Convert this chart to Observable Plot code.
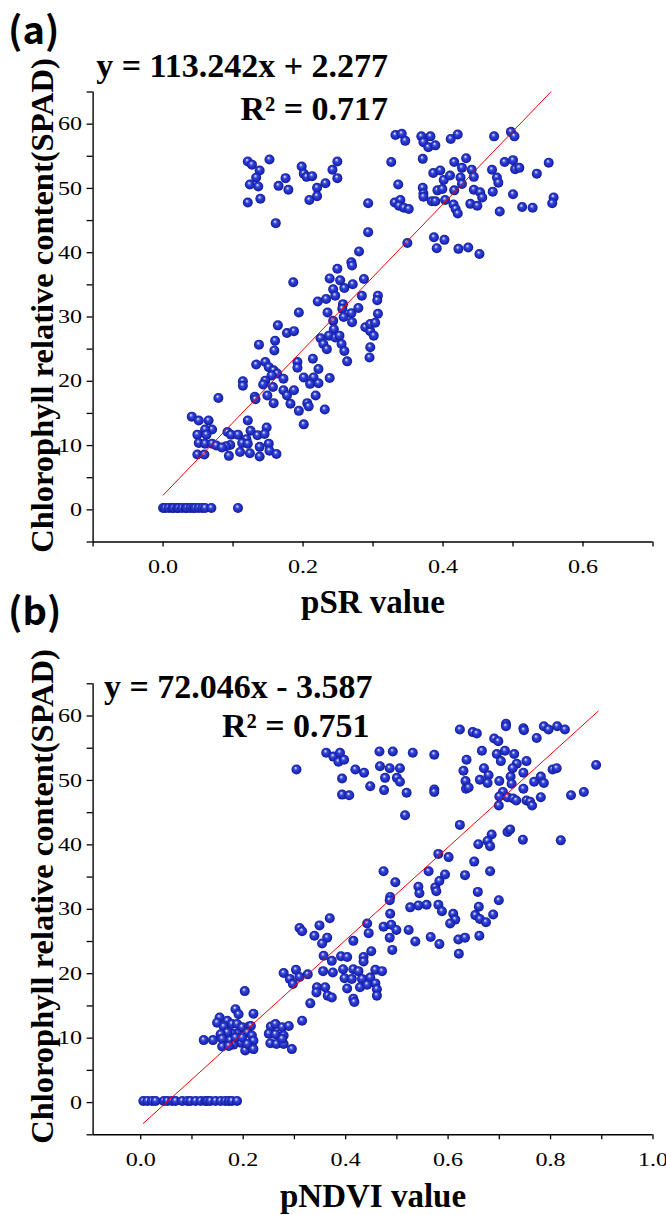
<!DOCTYPE html>
<html><head><meta charset="utf-8">
<script src="https://cdn.jsdelivr.net/npm/d3@7"></script>
<script src="https://cdn.jsdelivr.net/npm/@observablehq/plot@0.6"></script>
<style>
body{margin:0;background:#fff;width:666px;}
svg{display:block;}
</style></head><body><div id="pa"></div><div id="pb"></div>
<script>
// ---------- Panel (a): pSR ----------
const aZeroRow = [[0.0,0.3],[0.003,0.3],[0.008,0.3],[0.013,0.3],[0.015,0.3],[0.020,0.3],[0.022,0.3],[0.027,0.3],[0.032,0.3],[0.034,0.3],[0.039,0.3],[0.043,0.3],[0.046,0.3],[0.051,0.3],[0.056,0.3],[0.060,0.3],[0.069,0.3],[0.107,0.3]];
const aLow = [[0.041,14.5],[0.051,13.9],[0.065,13.9],[0.070,12.5],[0.060,12.5],[0.049,11.7],[0.062,11.7],[0.051,10.4],[0.060,10.3],[0.070,10.3],[0.076,10.0],[0.049,8.6],[0.059,8.6],[0.092,12.1],[0.097,11.7],[0.107,11.7],[0.121,13.9],[0.125,12.3],[0.119,11.0],[0.113,10.4],[0.110,9.0],[0.096,10.1],[0.090,9.9],[0.094,8.4],[0.084,9.7],[0.124,8.8],[0.135,11.6],[0.148,12.8],[0.145,11.8],[0.138,9.8],[0.151,10.3],[0.152,9.2],[0.138,8.3],[0.162,8.7],[0.121,10.3]];
const aMid = [[0.079,17.4],[0.114,20.0],[0.114,19.3],[0.131,17.6],[0.132,17.2],[0.133,22.6],[0.146,23.0],[0.151,22.2],[0.158,21.7],[0.163,21.2],[0.155,20.9],[0.172,20.4],[0.146,20.1],[0.143,19.5],[0.157,19.1],[0.149,17.8],[0.158,16.6],[0.172,18.6],[0.177,17.8],[0.187,18.6],[0.182,16.5],[0.194,15.4],[0.201,13.3],[0.206,16.6],[0.208,16.1],[0.218,17.8],[0.192,23.0],[0.192,22.1],[0.201,20.6],[0.215,20.6],[0.210,19.6],[0.222,19.7],[0.222,21.9],[0.214,23.5],[0.238,20.5],[0.231,15.6],[0.137,25.7],[0.160,26.3],[0.159,24.8],[0.177,27.5],[0.187,27.8],[0.164,28.7],[0.194,30.7],[0.221,32.4],[0.233,32.8],[0.235,30.7],[0.243,34.3],[0.246,33.3],[0.259,34.5],[0.253,35.7],[0.271,35.1],[0.284,33.3],[0.257,32.0],[0.256,31.3],[0.269,30.6],[0.279,31.4],[0.270,29.2],[0.258,30.0],[0.243,29.4],[0.244,28.1],[0.237,27.1],[0.225,26.7],[0.229,25.8],[0.234,25.0],[0.246,26.8],[0.252,27.1],[0.255,25.8],[0.259,24.7],[0.263,23.1],[0.289,28.4],[0.296,27.8],[0.301,27.1],[0.307,33.3],[0.306,32.6],[0.307,30.5],[0.296,25.3],[0.295,23.7],[0.296,28.9],[0.186,35.4],[0.303,29.1]];
const aUpperLeft = [[0.121,54.2],[0.127,53.7],[0.152,54.5],[0.138,52.8],[0.133,51.7],[0.124,50.6],[0.136,50.3],[0.121,47.8],[0.139,48.4],[0.175,51.6],[0.165,50.4],[0.179,49.8],[0.161,44.6],[0.198,53.4],[0.201,52.3],[0.205,51.8],[0.213,51.9],[0.249,54.2],[0.242,52.9],[0.249,51.6],[0.232,50.8],[0.220,50.1],[0.220,48.8],[0.209,48.2],[0.293,47.7],[0.293,43.2],[0.280,40.2],[0.269,38.5],[0.270,38.0],[0.249,37.5],[0.238,36.0],[0.287,35.9]];
const aUpperRight = [[0.332,58.3],[0.341,58.5],[0.346,57.4],[0.369,58.1],[0.382,58.1],[0.372,57.2],[0.379,56.4],[0.389,56.7],[0.411,57.7],[0.421,58.4],[0.473,58.1],[0.497,58.8],[0.502,58.1],[0.326,54.1],[0.371,54.6],[0.336,50.6],[0.331,47.8],[0.339,48.2],[0.337,47.3],[0.344,47.0],[0.351,46.8],[0.371,50.1],[0.372,49.2],[0.372,48.7],[0.384,48.0],[0.389,48.0],[0.386,52.4],[0.396,52.8],[0.392,49.7],[0.399,49.9],[0.401,51.3],[0.410,52.0],[0.416,54.1],[0.416,49.7],[0.427,53.2],[0.433,54.7],[0.441,52.9],[0.444,51.8],[0.425,51.7],[0.427,50.7],[0.403,48.2],[0.415,47.5],[0.418,46.8],[0.421,46.1],[0.439,47.6],[0.449,47.3],[0.444,49.8],[0.453,49.4],[0.456,48.6],[0.470,52.9],[0.477,51.7],[0.479,50.9],[0.471,49.5],[0.488,54.1],[0.500,54.4],[0.503,53.0],[0.509,53.2],[0.500,49.1],[0.481,46.4],[0.513,47.1],[0.528,47.0],[0.534,52.3],[0.551,54.0],[0.558,48.6],[0.556,47.7],[0.349,41.5],[0.387,42.4],[0.391,40.7],[0.402,42.0],[0.422,40.6],[0.436,40.8],[0.452,39.8]];
const aSlope = 113.242, aIntercept = 2.277;
const aFitRange = [0, 0.554];
const aEquation = "y = 113.242x + 2.277";
const aR2 = "R\u00B2 = 0.717";

// ---------- Panel (b): pNDVI ----------
const bZeroRow = [[0.005,0.26],[0.013,0.26],[0.022,0.26],[0.029,0.26],[0.045,0.26],[0.052,0.26],[0.061,0.26],[0.068,0.26],[0.081,0.26],[0.091,0.26],[0.097,0.26],[0.107,0.26],[0.117,0.26],[0.126,0.26],[0.130,0.26],[0.136,0.26],[0.146,0.26],[0.156,0.26],[0.165,0.26],[0.172,0.26],[0.178,0.26],[0.188,0.26]];
const bLow = [[0.203,17.3],[0.185,14.5],[0.191,13.7],[0.154,13.2],[0.149,12.4],[0.169,12.7],[0.162,11.8],[0.178,12.2],[0.188,12.2],[0.198,11.7],[0.211,11.8],[0.215,11.9],[0.208,10.9],[0.188,10.7],[0.178,10.7],[0.169,10.9],[0.156,10.6],[0.159,9.9],[0.175,9.7],[0.217,10.4],[0.220,9.6],[0.195,9.3],[0.181,9.0],[0.159,8.7],[0.204,8.1],[0.217,8.6],[0.123,9.7],[0.141,9.7],[0.254,11.8],[0.263,12.2],[0.276,11.7],[0.289,11.9],[0.250,10.7],[0.263,10.6],[0.253,9.2],[0.265,9.1],[0.279,10.4],[0.279,9.1],[0.295,8.3],[0.276,9.9],[0.185,10.1],[0.198,10.1],[0.208,9.1],[0.172,8.8],[0.220,8.3]];
const bMid = [[0.474,35.9],[0.497,34.2],[0.542,33.5],[0.544,32.5],[0.562,35.9],[0.575,33.4],[0.577,32.8],[0.583,34.4],[0.594,35.4],[0.633,35.3],[0.682,35.9],[0.658,32.7],[0.699,31.4],[0.660,30.4],[0.653,29.1],[0.662,28.5],[0.674,28.0],[0.688,29.2],[0.610,29.3],[0.614,28.4],[0.604,27.8],[0.581,30.7],[0.588,29.7],[0.558,30.7],[0.542,30.6],[0.526,30.3],[0.487,31.9],[0.486,31.4],[0.487,29.3],[0.474,27.3],[0.489,27.6],[0.499,26.8],[0.523,26.8],[0.486,25.6],[0.491,23.7],[0.536,25.0],[0.566,25.7],[0.583,24.6],[0.620,25.3],[0.633,25.6],[0.661,25.9],[0.621,23.1],[0.442,27.8],[0.445,26.3],[0.369,28.6],[0.349,27.5],[0.310,27.1],[0.315,26.6],[0.339,25.9],[0.364,25.6],[0.354,24.7],[0.415,25.1],[0.450,23.5],[0.357,22.8],[0.373,22.0],[0.391,22.7],[0.403,22.6],[0.435,22.6],[0.435,21.9],[0.279,20.1],[0.303,20.6],[0.291,19.2],[0.297,18.4],[0.310,19.5],[0.326,19.9],[0.356,20.4],[0.375,20.2],[0.395,20.7],[0.415,20.7],[0.425,20.4],[0.458,20.6],[0.471,20.4],[0.398,19.3],[0.412,19.2],[0.432,19.2],[0.448,19.4],[0.458,18.5],[0.428,17.9],[0.442,18.3],[0.461,17.6],[0.461,16.6],[0.344,17.9],[0.343,17.1],[0.360,17.9],[0.365,16.6],[0.373,16.3],[0.403,17.7],[0.415,16.1],[0.417,15.6],[0.331,15.4],[0.220,13.8],[0.315,12.7]];
const bUpper = [[0.304,51.7],[0.362,54.3],[0.376,53.7],[0.389,54.3],[0.386,52.9],[0.397,53.2],[0.393,50.3],[0.419,51.7],[0.436,51.2],[0.393,47.8],[0.407,47.7],[0.448,49.1],[0.466,54.5],[0.467,52.2],[0.486,51.9],[0.477,50.4],[0.492,54.5],[0.506,51.9],[0.500,50.4],[0.506,49.8],[0.475,48.5],[0.519,48.1],[0.531,54.3],[0.573,54.0],[0.573,48.6],[0.573,48.2],[0.516,44.6],[0.623,57.9],[0.648,57.5],[0.656,57.3],[0.690,56.5],[0.698,56.1],[0.713,58.8],[0.713,58.4],[0.747,58.1],[0.748,57.8],[0.773,56.6],[0.787,58.4],[0.796,57.9],[0.813,58.4],[0.828,57.9],[0.666,54.6],[0.636,53.2],[0.630,51.5],[0.634,49.9],[0.635,48.7],[0.640,48.9],[0.670,51.9],[0.679,50.8],[0.662,50.1],[0.677,49.6],[0.700,49.9],[0.695,54.1],[0.711,54.6],[0.703,53.0],[0.729,54.1],[0.734,52.6],[0.726,51.9],[0.753,53.0],[0.747,51.2],[0.722,50.6],[0.724,49.5],[0.707,48.2],[0.700,47.5],[0.699,46.1],[0.716,47.4],[0.727,47.2],[0.733,46.9],[0.747,48.7],[0.753,46.9],[0.760,46.7],[0.764,46.1],[0.781,47.4],[0.768,49.8],[0.781,50.6],[0.787,49.6],[0.804,51.7],[0.812,51.9],[0.840,47.7],[0.865,48.2],[0.889,52.4],[0.623,43.1],[0.685,41.6],[0.716,42.0],[0.721,42.4],[0.746,40.8],[0.820,40.7],[0.677,40.6],[0.659,40.1],[0.682,39.8],[0.581,38.6],[0.601,38.1],[0.651,37.4]];
const bSlope = 72.046, bIntercept = -3.587;
const bFitRange = [0.005, 0.893];
const bEquation = "y = 72.046x - 3.587";
const bR2 = "R\u00B2 = 0.751";

// ---------- shared axis ticks / labels ----------
const yMajor = [0, 10, 20, 30, 40, 50, 60];
const yMinor = [-5, 5, 15, 25, 35, 45, 55, 65];
const aXMajor = [0, 0.2, 0.4, 0.6];
const aXMinor = [-0.1, 0.1, 0.3, 0.5, 0.7];
const bXMajor = [0, 0.2, 0.4, 0.6, 0.8, 1.0];
const bXMinor = [0.1, 0.3, 0.5, 0.7, 0.9];
const yTitle = "Chlorophyll relative content(SPAD)";
const aXTitle = "pSR value", bXTitle = "pNDVI value";
const aPanel = "(a)", bPanel = "(b)";

const TICK_STRETCH = 1.27;
const serif = "Liberation Serif, Times New Roman, serif";

function panel(cfg) {
  const pts = cfg.points;
  const fit = cfg.fitRange.map(x => ({x, y: cfg.slope * x + cfg.intercept}));
  const gid = cfg.gid;
  const svg = Plot.plot({
    width: 666, height: cfg.height,
    marginLeft: 92.6, marginRight: 13.5, marginTop: cfg.marginTop, marginBottom: cfg.marginBottom,
    x: {domain: cfg.xDomain, axis: null},
    y: {domain: [-5, 65], axis: null},
    style: {fontFamily: serif, fontSize: "19px", color: "black", background: "white", overflow: "visible"},
    marks: [
      Plot.ruleX([cfg.xDomain[0]], {stroke: "black", strokeWidth: 1.4}),
      Plot.ruleY([-5], {stroke: "black", strokeWidth: 1.4}),
      Plot.axisY(yMajor, {anchor: "left", tickSize: 6, tickPadding: 5, tickFormat: d => String(d), label: null, strokeWidth: 1.3}),
      Plot.axisY(yMinor, {anchor: "left", tickSize: 6, tickFormat: () => "", label: null, strokeWidth: 1.3}),
      Plot.axisX(cfg.xMajor, {anchor: "bottom", tickSize: 5, tickPadding: 13, tickFormat: d3.format(".1f"), label: null, strokeWidth: 1.3}),
      Plot.axisX(cfg.xMinor, {anchor: "bottom", tickSize: 5, tickFormat: () => "", label: null, strokeWidth: 1.3}),
      Plot.dot(pts, {x: d => d[0], y: d => d[1], r: 5, fill: `url(#${gid})`}),
      Plot.line(fit, {x: "x", y: "y", stroke: "#ff0000", strokeWidth: 1}),
      Plot.text([cfg.eq], {frameAnchor: "top-left", textAnchor: "end", lineAnchor: "bottom", dx: cfg.eqDx, dy: cfg.eqDy, fontSize: 34, fontWeight: "bold", fontFamily: serif}),
      Plot.text([cfg.r2], {frameAnchor: "top-left", textAnchor: "end", lineAnchor: "bottom", dx: cfg.r2Dx, dy: cfg.r2Dy, fontSize: 34, fontWeight: "bold", fontFamily: serif}),
      Plot.text([cfg.panel], {frameAnchor: "top-left", textAnchor: "start", lineAnchor: "bottom", dx: -85, dy: cfg.panelDy, fontSize: 38, fontWeight: "bold", fontFamily: "Noto Sans CJK SC, Noto Sans, sans-serif"}),
      Plot.text([cfg.xTitle], {frameAnchor: "bottom", textAnchor: "middle", lineAnchor: "bottom", dy: cfg.xTitleDy, fontSize: 33, fontWeight: "bold", fontFamily: serif}),
      Plot.text([yTitle], {frameAnchor: "left", textAnchor: "middle", lineAnchor: "bottom", rotate: -90, dx: -40.6, dy: cfg.yTitleDy, fontSize: 32.5, fontWeight: "bold", fontFamily: serif})
    ]
  });
  d3.select(svg).insert("defs", ":first-child").html(
    `<radialGradient id="${gid}" cx="50%" cy="50%" r="50%" fx="40%" fy="32%">
      <stop offset="0%" stop-color="#ffffff"/>
      <stop offset="14%" stop-color="#a6aefa"/>
      <stop offset="38%" stop-color="#3444d6"/>
      <stop offset="75%" stop-color="#1d2bc0"/>
      <stop offset="100%" stop-color="#131b88"/>
    </radialGradient>`);
  document.getElementById(cfg.host).appendChild(svg);
  // tick labels in the reference are drawn in a wide face: widen them horizontally
  svg.querySelectorAll("text").forEach(t => {
    if (!/^-?[\d.]+$/.test(t.textContent)) return;
    const tr = t.getAttribute("transform") || "";
    t.setAttribute("transform", tr + ` scale(${TICK_STRETCH},1)`);
  });
}

panel({
  host: "pa", gid: "sphA", height: 607, marginTop: 91.5, marginBottom: 65.5,
  xDomain: [-0.1, 0.7], xMajor: aXMajor, xMinor: aXMinor,
  points: [...aZeroRow, ...aLow, ...aMid, ...aUpperLeft, ...aUpperRight],
  slope: aSlope, intercept: aIntercept, fitRange: aFitRange,
  eq: aEquation, r2: aR2, eqDx: 295, eqDy: -15, r2Dx: 295, r2Dy: 27.5,
  panel: aPanel, panelDy: -48, xTitle: aXTitle, xTitleDy: 70.5, yTitleDy: -11.5
});
panel({
  host: "pb", gid: "sphB", height: 608, marginTop: 76.3, marginBottom: 80.7,
  xDomain: [-0.093, 1.0], xMajor: bXMajor, xMinor: bXMinor,
  points: [...bZeroRow, ...bLow, ...bMid, ...bUpper],
  slope: bSlope, intercept: bIntercept, fitRange: bFitRange,
  eq: bEquation, r2: bR2, eqDx: 279.5, eqDy: 13.7, r2Dx: 276.5, r2Dy: 52.7,
  panel: bPanel, panelDy: -59.3, xTitle: bXTitle, xTitleDy: 72.5, yTitleDy: -12.8
});
</script>
</body></html>
